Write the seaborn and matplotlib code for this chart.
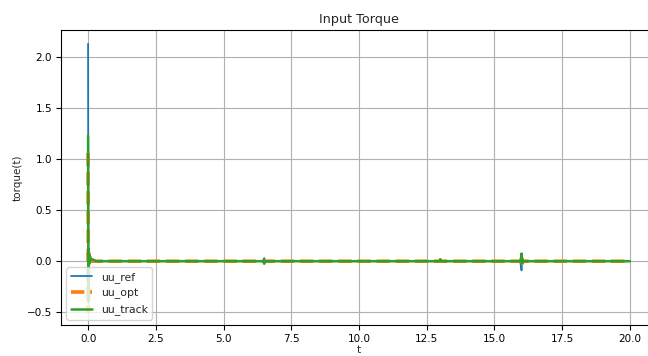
import matplotlib
matplotlib.use("Agg")
import matplotlib.pyplot as plt
import seaborn as sns

# Data (sparse key points)
t_ref = [0.0, 0.01, 0.02, 0.04, 0.07, 0.1, 0.2, 6.45, 6.5, 6.55, 12.95, 13.0, 13.05,
         15.95, 16.0, 16.02, 16.05, 16.1, 20.0]
uu_ref = [2.13, -0.2, 0.1, -0.03, 0.02, 0.0, 0.0, 0.0, 0.03, 0.0, 0.0, 0.01, 0.0,
          0.0, -0.09, 0.02, -0.01, 0.0, 0.0]

t_opt = [0.0, 0.01, 0.02, 0.04, 0.07, 0.1, 0.2, 6.5, 13.0, 15.98, 16.0, 16.03, 16.06, 20.0]
uu_opt = [1.06, -0.5, 0.08, 0.0, 0.02, 0.0, 0.0, 0.0, 0.0, 0.0, 0.06, -0.02, 0.0, 0.0]

t_track = [0.0, 0.01, 0.02, 0.04, 0.07, 0.1, 0.15, 0.3, 6.48, 6.5, 6.52, 12.98, 13.0, 13.02,
           15.97, 16.0, 16.02, 16.05, 16.08, 20.0]
uu_track = [1.23, -0.4, 0.12, -0.03, 0.05, 0.01, 0.02, 0.0, 0.0, -0.025, 0.0, 0.0, 0.02, 0.0,
            0.0, 0.075, -0.02, 0.01, 0.0, 0.0]

x_ticks = [0.0, 2.5, 5.0, 7.5, 10.0, 12.5, 15.0, 17.5, 20.0]
y_ticks = [-0.5, 0.0, 0.5, 1.0, 1.5, 2.0]

sns.set_style("whitegrid")
plt.rcParams['font.family'] = ['DejaVu Sans']

fig = plt.figure(figsize=(6.48, 3.56), dpi=100)
ax = fig.add_axes([61 / 648, 31 / 356, 596 / 648, 295 / 356])

sns.lineplot(x=t_ref, y=uu_ref, ax=ax, color="#1f77b4", linewidth=1.3, label="uu_ref",
             sort=False, estimator=None)
sns.lineplot(x=t_opt, y=uu_opt, ax=ax, color="#ff7f0e", linewidth=2.6, linestyle="--",
             label="uu_opt", sort=False, estimator=None)
sns.lineplot(x=t_track, y=uu_track, ax=ax, color="#2ca02c", linewidth=1.8, label="uu_track",
             sort=False, estimator=None)

ax.set_xlim(-1.0, 21.0)
ax.set_ylim(-0.625, 2.265)
ax.set_xticks(x_ticks)
ax.set_yticks(y_ticks)
ax.tick_params(axis='both', labelsize=7.5, length=3.5, width=0.8, colors='black', direction='out',
               bottom=True, left=True, pad=3)
ax.grid(True, color="#b0b0b0", linewidth=0.8)
for s in ax.spines.values():
    s.set_color("black")
    s.set_linewidth(0.8)
ax.set_facecolor("white")

ax.set_title("Input Torque", fontsize=9.2, pad=5)
ax.set_xlabel("t", fontsize=7.5, labelpad=1)
ax.set_ylabel("torque(t)", fontsize=7.5, labelpad=3)
leg = ax.legend(loc="lower left", fontsize=7.8, frameon=True, framealpha=0.8)
leg.get_frame().set_edgecolor("#cccccc")

fig.savefig("out.png", dpi=100)
